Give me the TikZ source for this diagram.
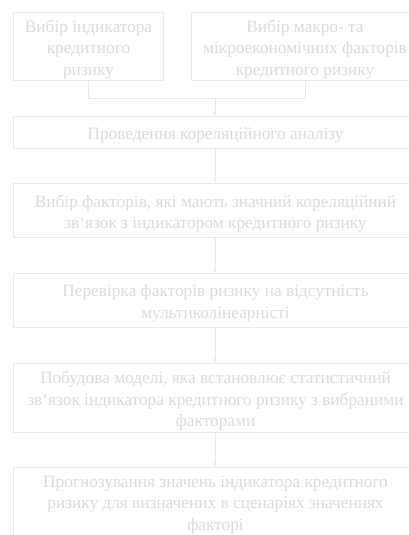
\documentclass[tikz,border=0pt]{standalone}
\usepackage{fontspec}
\setmainfont{Liberation Serif}
\usetikzlibrary{arrows.meta}
\definecolor{bd}{HTML}{E9E9E9}
\definecolor{tx}{HTML}{DADADA}
\begin{document}
\begin{tikzpicture}[x=1pt,y=-1pt,
  box/.style={draw=bd, line width=1pt, inner sep=0pt, anchor=north west},
  txt/.style={text=tx, align=center, inner sep=0pt,
    font=\fontsize{17.3}{21.5}\selectfont, yshift=-3pt},
  link/.style={draw=bd, line width=1pt},
  arr/.style={link, -{Stealth[length=5pt,width=4pt]}}]
\useasboundingbox (0,0) rectangle (409,535);
\clip (0,0) rectangle (409,535);
\node[box, minimum width=150pt, minimum height=68pt] (b1) at (13,12) {};
\node[box, minimum width=227pt, minimum height=68pt] (b2) at (191,12) {};
\node[box, minimum width=404pt, minimum height=32pt] (b3) at (13,116) {};
\node[box, minimum width=404pt, minimum height=54pt] (b4) at (13,183) {};
\node[box, minimum width=404pt, minimum height=54pt] (b5) at (13,273) {};
\node[box, minimum width=404pt, minimum height=69pt] (b6) at (13,363) {};
\node[box, minimum width=404pt, minimum height=78pt] (b7) at (13,467) {};
\node[txt] (t1) at (b1.center) {Вибір індикатора\\кредитного\\ризику};
\node[txt] (t2) at (b2.center) {Вибір макро- та\\мікроекономічних факторів\\кредитного ризику};
\node[txt] (t3) at (b3.center) {Проведення кореляційного аналізу};
\node[txt] (t4) at (b4.center) {Вибір факторів, які мають значний кореляційний\\зв`язок з індикатором кредитного ризику};
\node[txt] (t5) at (b5.center) {Перевірка факторів ризику на відсутність\\мультиколінеарністі};
\node[txt] (t6) at (b6.center) {Побудова моделі, яка встановлює статистичний\\зв`язок індикатора кредитного ризику з вибраними\\факторами};
\node[txt, yshift=4.5pt] (t7) at (b7.center) {Прогнозування значень індикатора кредитного\\ризику для визначених в сценаріях значеннях\\факторі};
\coordinate (m) at (215,98);
\draw[link] (b1.south) -- (b1.south |- m) -- (b2.south |- m) -- (b2.south);
\draw[arr] (m) -- (b3.north -| m);
\draw[arr] (b3.south -| m) -- (b4.north -| m);
\draw[arr] (b4.south -| m) -- (b5.north -| m);
\draw[arr] (b5.south -| m) -- (b6.north -| m);
\draw[arr] (b6.south -| m) -- (b7.north -| m);
\end{tikzpicture}
\end{document}
